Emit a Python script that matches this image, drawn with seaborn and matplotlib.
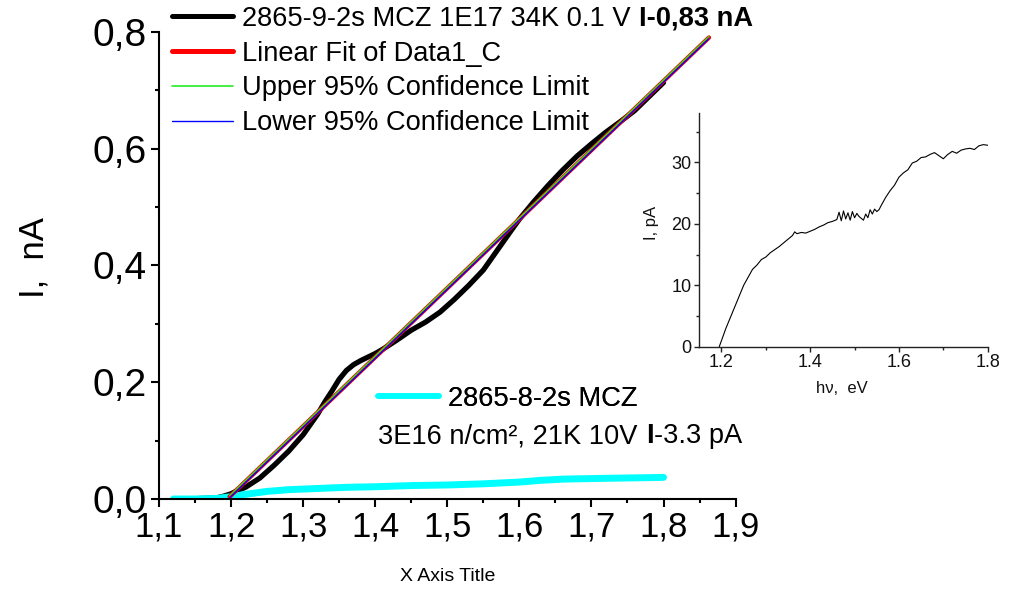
import matplotlib
matplotlib.use("Agg")
import matplotlib.pyplot as plt
import seaborn as sns
from matplotlib.ticker import MultipleLocator, FuncFormatter
from matplotlib.lines import Line2D

sns.set_style("ticks")
plt.rcParams['font.family'] = ['Liberation Sans', 'DejaVu Sans']
plt.rcParams['text.color'] = 'black'
plt.rcParams['axes.labelcolor'] = 'black'
plt.rcParams['xtick.color'] = 'black'
plt.rcParams['ytick.color'] = 'black'

# ---------------- data ----------------
black_x = [1.12, 1.14, 1.16, 1.18, 1.19, 1.20, 1.21, 1.22, 1.24, 1.26, 1.28, 1.30, 1.32, 1.33,
           1.34, 1.35, 1.36, 1.37, 1.38, 1.39, 1.40, 1.41, 1.42, 1.43, 1.45, 1.47, 1.49, 1.51,
           1.53, 1.55, 1.57, 1.59, 1.60, 1.62, 1.64, 1.66, 1.68, 1.70, 1.72, 1.74, 1.76, 1.78, 1.80]
black_y = [0.000, 0.000, 0.001, 0.002, 0.005, 0.009, 0.015, 0.020, 0.036, 0.058, 0.082, 0.110,
           0.145, 0.166, 0.185, 0.205, 0.220, 0.230, 0.237, 0.243, 0.249, 0.256, 0.264, 0.272,
           0.289, 0.303, 0.320, 0.342, 0.366, 0.392, 0.427, 0.462, 0.479, 0.509, 0.537, 0.563,
           0.587, 0.608, 0.628, 0.646, 0.665, 0.689, 0.713]

fit_x = [1.198, 1.863]
fit_y = [0.004, 0.790]
upper_y = [0.006, 0.792]
lower_y = [0.002, 0.788]

cyan_x = [1.12, 1.15, 1.18, 1.20, 1.22, 1.25, 1.28, 1.32, 1.36, 1.40, 1.45, 1.50, 1.55, 1.60,
          1.63, 1.66, 1.70, 1.75, 1.80]
cyan_y = [0.000, 0.000, 0.001, 0.004, 0.008, 0.013, 0.016, 0.018, 0.020, 0.021, 0.023, 0.024,
          0.026, 0.029, 0.032, 0.034, 0.035, 0.036, 0.037]

inset_x = [1.195, 1.21, 1.23, 1.25, 1.26, 1.27, 1.28, 1.29, 1.30, 1.31, 1.32, 1.33, 1.34, 1.35,
           1.36, 1.365, 1.37, 1.38, 1.39, 1.40, 1.41, 1.42, 1.43, 1.44, 1.45, 1.46, 1.465, 1.47,
           1.475, 1.48, 1.485, 1.49, 1.495, 1.50, 1.505, 1.51, 1.515, 1.52, 1.525, 1.53, 1.535,
           1.54, 1.545, 1.55, 1.555, 1.56, 1.57, 1.58, 1.59, 1.60, 1.61, 1.62, 1.63, 1.64, 1.65,
           1.66, 1.67, 1.68, 1.69, 1.70, 1.71, 1.72, 1.73, 1.74, 1.75, 1.76, 1.77, 1.78, 1.79, 1.80]
inset_pa = [0.0, 3.0, 6.5, 10.0, 11.3, 12.6, 13.3, 14.2, 14.6, 15.3, 15.8, 16.3, 16.9, 17.5,
            18.1, 18.7, 18.4, 18.6, 18.5, 18.8, 19.1, 19.5, 19.8, 20.2, 20.4, 20.7, 21.9, 20.5,
            22.1, 20.8, 21.8, 20.6, 22.0, 21.0, 21.7, 21.2, 20.9, 20.6, 21.6, 21.0, 22.3,
            21.6, 22.4, 22.0, 22.3, 23.0, 24.3, 25.4, 26.3, 27.6, 28.3, 28.8, 29.9, 30.2, 30.8,
            30.9, 31.3, 31.6, 31.1, 30.6, 31.3, 31.8, 31.5, 32.0, 32.2, 32.3, 32.1, 32.7, 32.9, 32.8]

labels_main = ["2865-9-2s MCZ 1E17 34K 0.1 V", "Linear Fit of Data1_C",
               "Upper 95% Confidence Limit", "Lower 95% Confidence Limit"]
bold_main = "I-0,83 nA"
label_cyan = "2865-8-2s MCZ"
cyan_line2 = "3E16 n/cm\u00b2, 21K 10V"
cyan_bold = "I"
cyan_tail = "-3.3 pA"

# ---------------- figure ----------------
W, H = 1015, 589
fig = plt.figure(figsize=(W / 100, H / 100), dpi=100)
ax = fig.add_axes([159 / W, (H - 499) / H, (735.6 - 159) / W, (499 - 31.7) / H])

kw = dict(ax=ax, estimator=None, sort=False, legend=False)
sns.lineplot(x=black_x, y=black_y, color='black', lw=3.8, **kw)
sns.lineplot(x=cyan_x, y=cyan_y, color='#00FFFF', lw=5, **kw)
sns.lineplot(x=fit_x, y=fit_y, color='#FF0000', lw=3.2, **kw)
sns.lineplot(x=fit_x, y=upper_y, color='#22EE22', lw=0.9, **kw)
sns.lineplot(x=fit_x, y=lower_y, color='#0000FF', lw=0.9, **kw)

ax.set_xlim(1.1, 1.9)
ax.set_ylim(0, 0.8)
comma = FuncFormatter(lambda v, _: f"{v:.1f}".replace('.', ','))
ax.xaxis.set_major_locator(MultipleLocator(0.1))
ax.xaxis.set_minor_locator(MultipleLocator(0.05))
ax.yaxis.set_major_locator(MultipleLocator(0.2))
ax.yaxis.set_minor_locator(MultipleLocator(0.1))
ax.xaxis.set_major_formatter(comma)
ax.yaxis.set_major_formatter(comma)
sns.despine(ax=ax)
for s in ['left', 'bottom']:
    ax.spines[s].set_linewidth(1.5)
    ax.spines[s].set_color('black')
ax.tick_params(which='major', direction='out', length=6, width=1.5, color='black')
ax.tick_params(which='minor', direction='out', length=3, width=1.5, color='black')
ax.tick_params(axis='x', which='major', labelsize=25, pad=2, labelcolor='black')
ax.tick_params(axis='y', which='major', labelsize=28, pad=3, labelcolor='black')
ax.set_xlabel("X Axis Title", fontsize=14, color='black')
ax.xaxis.set_label_coords(0.5, -0.148)
ax.set_ylabel("I,  nA", fontsize=25, color='black')
ax.yaxis.set_label_coords(-0.189, 0.517)
ax.patch.set_alpha(0)

# legends
FS = 19.6
handles1 = [Line2D([], [], color='black', lw=3.6), Line2D([], [], color='#FF0000', lw=3.6),
            Line2D([], [], color='#22EE22', lw=1.2), Line2D([], [], color='#0000FF', lw=1.0)]
leg_kw = dict(frameon=False, fontsize=FS, handlelength=2.25, handletextpad=0.32,
              borderpad=0, borderaxespad=0, loc='upper left', bbox_transform=fig.transFigure,
              labelcolor='black')
leg1 = ax.legend(handles1, labels_main, bbox_to_anchor=(172 / W, 1 - 6 / H),
                 labelspacing=0.32, **leg_kw)
ax.add_artist(leg1)
leg2 = ax.legend([Line2D([], [], color='#00FFFF', lw=4)], [label_cyan],
                 bbox_to_anchor=(378 / W, 1 - 386 / H), **leg_kw)
ax.add_artist(leg2)

t0 = leg1.get_texts()[0]
ax.annotate(bold_main, xy=(1, 0), xycoords=t0, xytext=(6.5, 0), textcoords='offset points',
            ha='left', va='bottom', fontsize=FS, fontweight='bold', zorder=10,
            annotation_clip=False, color='black')

t2 = fig.text(378 / W, 1 - 443.3 / H, cyan_line2, fontsize=FS, ha='left', va='baseline',
              color='black')
a1 = ax.annotate(cyan_bold, xy=(1, 0), xycoords=t2, xytext=(6.5, 0), textcoords='offset points',
                 ha='left', va='bottom', fontsize=FS, fontweight='bold', zorder=10,
                 annotation_clip=False, color='black')
ax.annotate(cyan_tail, xy=(1, 0), xycoords=a1, xytext=(0.3, 0), textcoords='offset points',
            ha='left', va='bottom', fontsize=FS, zorder=10, annotation_clip=False,
            color='black')

# ---------------- inset ----------------
ax2 = fig.add_axes([699.3 / W, (H - 346.7) / H, 288.4 / W, 233.4 / H])
sns.lineplot(x=inset_x, y=inset_pa, ax=ax2, color='black', lw=0.8, estimator=None,
             sort=False, legend=False)
ax2.set_xlim(1.15, 1.8)
ax2.set_ylim(0, 38)
ax2.xaxis.set_major_locator(MultipleLocator(0.2))
ax2.xaxis.set_minor_locator(MultipleLocator(0.1))
ax2.yaxis.set_major_locator(MultipleLocator(10))
ax2.yaxis.set_minor_locator(MultipleLocator(5))
ax2.xaxis.set_major_formatter(FuncFormatter(lambda v, _: f"{v:.1f}"))
sns.despine(ax=ax2)
for s in ['left', 'bottom']:
    ax2.spines[s].set_linewidth(1.0)
    ax2.spines[s].set_color('#222222')
ax2.tick_params(which='major', direction='out', length=3.5, width=1.0, color='#222222',
                labelsize=13, pad=2, labelcolor='#111111')
ax2.tick_params(which='minor', direction='out', length=2, width=1.0, color='#222222')
ax2.set_xlabel("h\u03bd,  eV", fontsize=12, color='#111111')
ax2.xaxis.set_label_coords(0.494, -0.147)
ax2.set_ylabel("I, pA", fontsize=12, color='#111111')
ax2.yaxis.set_label_coords(-0.14, 0.529)
ax2.patch.set_alpha(0)

fig.canvas.draw()
fig.savefig("out.png", dpi=100)
